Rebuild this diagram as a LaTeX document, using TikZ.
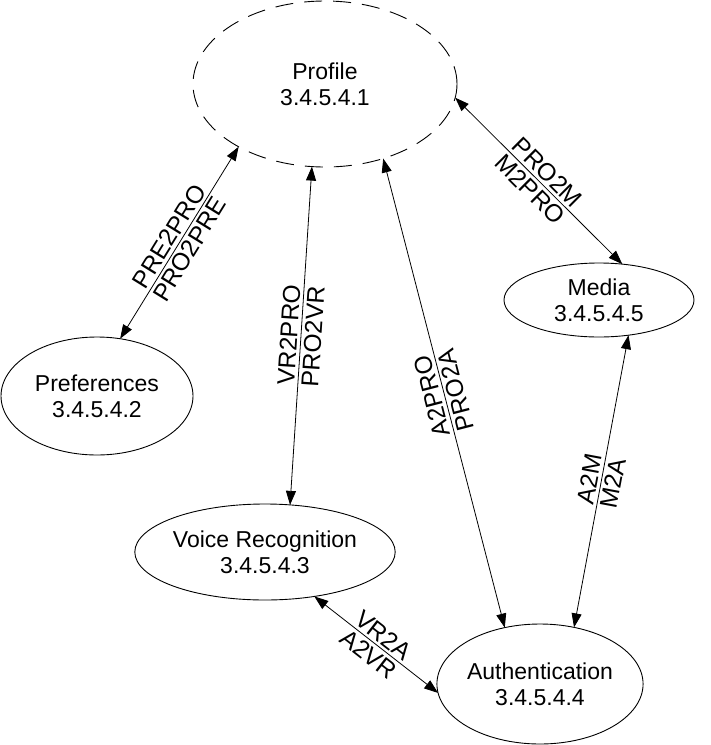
\documentclass[tikz,border=0pt]{standalone}
\usepackage{fontspec}
\setmainfont{Liberation Sans}
\usetikzlibrary{shapes.geometric,arrows.meta}
\begin{document}
\begin{tikzpicture}[x=1pt,y=-1pt,
  every node/.style={font=\fontsize{23}{26}\selectfont},
  unit/.style={ellipse, draw, line width=0.9pt, align=center, inner sep=0pt, outer sep=0pt},
  conn/.style={line width=0.8pt, {Triangle[length=14pt,width=10pt]}-{Triangle[length=14pt,width=10pt]}},
  lbl/.style={sloped, inner sep=3pt, font=\fontsize{24.5}{26}\selectfont},
]
\useasboundingbox (0,0) rectangle (711,745);
\node[unit, dashed, dash pattern=on 18pt off 11pt, minimum width=264pt, minimum height=166pt] (pro) at (325,84) {Profile\\3.4.5.4.1};
\node[unit, minimum width=192pt, minimum height=118pt] (pref) at (97,396) {Preferences\\3.4.5.4.2};
\node[unit, minimum width=242pt, minimum height=96pt] (voice) at (265,552) {Voice Recognition\\3.4.5.4.3};
\node[unit, minimum width=168pt, minimum height=120pt] (auth) at (540,684) {Authentication\\3.4.5.4.4};
\node[unit, minimum width=190pt, minimum height=74pt] (media) at (599,300) {Media\\3.4.5.4.5};

\draw[conn] (pref.68) -- node[lbl, above]{PRE2PRO} node[lbl, below]{PRO2PRE} (pro.216);
\draw[conn] (voice.62) -- node[lbl, above]{VR2PRO} node[lbl, below]{PRO2VR} (pro.261);
\draw[conn] (auth.122) -- node[lbl, allow upside down, above]{A2PRO} node[lbl, allow upside down, below]{PRO2A} (pro.308);
\draw[conn] (pro.354) -- node[lbl, above]{PRO2M} node[lbl, below]{M2PRO} (media.57);
\draw[conn] (auth.59) -- node[lbl, above]{A2M} node[lbl, below]{M2A} (media.310);
\draw[conn] (voice.318) -- node[lbl, above]{VR2A} node[lbl, below]{A2VR} (auth.185);
\end{tikzpicture}
\end{document}
